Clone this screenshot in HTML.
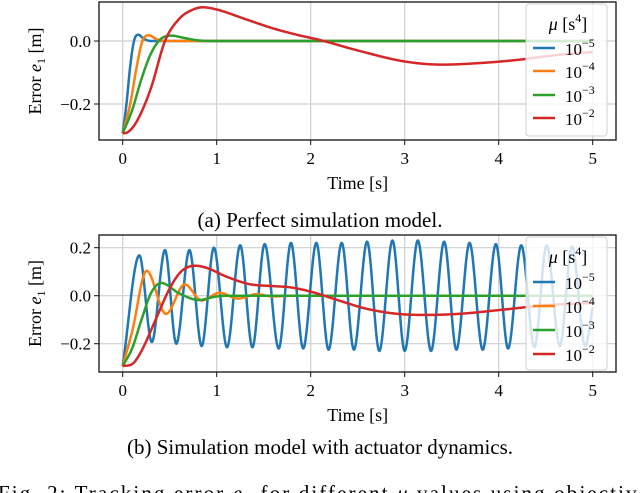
<!DOCTYPE html>
<html><head><meta charset="utf-8">
<style>
html,body{margin:0;padding:0;background:#fff;}
svg{display:block;font-family:"Liberation Serif","DejaVu Serif",serif;}
</style></head>
<body>
<svg id="fig" width="640" height="493" viewBox="0 0 640 493" xmlns="http://www.w3.org/2000/svg"></svg>
<script>
// ---- data ----
const xTicks = [0,1,2,3,4,5];
const yTicksTop = [0.0,-0.2];
const yTickLabelsTop = ["0.0","\u22120.2"];
const yTicksBot = [0.2,0.0,-0.2];
const yTickLabelsBot = ["0.2","0.0","\u22120.2"];
const seriesNames = ["1e-5","1e-4","1e-3","1e-2"];
const seriesExp = ["\u22125","\u22124","\u22123","\u22122"];
const colors = ["#1f77b4","#ff7f0e","#2ca02c","#d62728"];

// top plot (perfect model)
const topBlueT = [0,0.04,0.08,0.12,0.166,0.22,0.3,0.5,5];
const topBlueV = [-0.293,-0.2,-0.08,0.0,0.02,0.008,0.0,0.0,0.0];
const topOrangeT = [0,0.08,0.15,0.21,0.28,0.36,0.45,0.6,5];
const topOrangeV = [-0.293,-0.2,-0.08,0.0,0.018,0.006,0.0,0.0,0.0];
const topGreenT = [0,0.1,0.2,0.3,0.4,0.52,0.65,0.8,1.0,5];
const topGreenV = [-0.293,-0.22,-0.12,-0.04,0.005,0.017,0.01,0.002,0.0,0.0];
const topRedT = [0,0.05,0.15,0.3,0.45,0.6,0.75,0.85,1.0,1.3,1.6,1.85,2.1,2.5,3.0,3.4,3.8,4.2,4.6,5.0];
const topRedV = [-0.293,-0.29,-0.255,-0.15,0.0,0.07,0.1,0.107,0.1,0.07,0.04,0.02,0.003,-0.03,-0.065,-0.075,-0.07,-0.06,-0.045,-0.035];

// bottom plot (actuator dynamics)
const botBlueT = [0,0.177,0.31,0.45,0.57,0.71,0.84,0.97,1.11,1.25,1.38,1.51,1.66,1.79,1.92,2.06,2.19,2.33,2.46,2.6,2.73,2.87,3.0,3.14,3.28,3.42,3.55,3.69,3.83,3.97,4.1,4.24,4.38,4.51,4.65,4.78,4.92,5.0];
const botBlueV = [-0.293,0.168,-0.193,0.19,-0.2,0.19,-0.21,0.2,-0.215,0.21,-0.215,0.215,-0.22,0.22,-0.22,0.22,-0.225,0.22,-0.225,0.225,-0.23,0.23,-0.23,0.23,-0.23,0.225,-0.225,0.22,-0.225,0.215,-0.22,0.21,-0.215,0.21,-0.21,0.205,-0.21,-0.05];
const botOrangeT = [0,0.1,0.255,0.46,0.66,0.84,1.03,1.23,1.42,1.6,1.8,5];
const botOrangeV = [-0.293,-0.15,0.104,-0.076,0.047,-0.02,0.012,-0.012,0.006,-0.003,0.0,0.0];
const botGreenT = [0,0.1,0.2,0.3,0.41,0.6,0.81,1.0,1.2,5];
const botGreenV = [-0.293,-0.22,-0.1,0.01,0.053,0.01,-0.018,-0.003,0.0,0.0];
const botRedT = [0,0.1,0.2,0.35,0.5,0.62,0.77,0.9,1.1,1.35,1.6,1.78,2.0,2.3,2.6,3.0,3.25,3.6,4.0,4.5,5.0];
const botRedV = [-0.293,-0.285,-0.23,-0.1,0.03,0.1,0.125,0.115,0.08,0.048,0.04,0.035,0.017,-0.02,-0.055,-0.078,-0.08,-0.075,-0.06,-0.04,-0.03];

const NS="http://www.w3.org/2000/svg";
const svg=document.getElementById('fig');
function mk(tag,attrs,parent){const e=document.createElementNS(NS,tag);for(const k in attrs)e.setAttribute(k,attrs[k]);(parent||svg).appendChild(e);return e;}

function xScale(t){return 122.7+94*t;}

// monotone cubic interpolation
function monotone(T,V){
  const n=T.length,d=[],m=new Array(n);
  for(let i=0;i<n-1;i++)d.push((V[i+1]-V[i])/(T[i+1]-T[i]));
  m[0]=d[0];m[n-1]=d[n-2];
  for(let i=1;i<n-1;i++){ if(d[i-1]*d[i]<=0)m[i]=0; else m[i]=(d[i-1]+d[i])/2; }
  for(let i=0;i<n-1;i++){ if(d[i]===0){m[i]=0;m[i+1]=0;continue;}
    const a=m[i]/d[i],b=m[i+1]/d[i],s=a*a+b*b; if(s>9){const tt=3/Math.sqrt(s);m[i]=tt*a*d[i];m[i+1]=tt*b*d[i];}}
  const pts=[];
  for(let i=0;i<n-1;i++){const h=T[i+1]-T[i];const steps=Math.max(6,Math.ceil(h*200));
    for(let k=0;k<(i===n-2?steps+1:steps);k++){const s=k/steps;
      const h00=2*s*s*s-3*s*s+1,h10=s*s*s-2*s*s+s,h01=-2*s*s*s+3*s*s,h11=s*s*s-s*s;
      pts.push([T[i]+s*h,h00*V[i]+h10*h*m[i]+h01*V[i+1]+h11*h*m[i+1]]);}}
  return pts;
}

function panel(cfg){
  const g=mk('g',{});
  
  
  const yS=v=>cfg.y0-cfg.k*v;
  const clipId=cfg.name+'-clip';
  const cp=mk('clipPath',{id:clipId},g);mk('rect',{x:cfg.L,y:cfg.T,width:cfg.R-cfg.L,height:cfg.B-cfg.T},cp);
  // grid
  xTicks.forEach(t=>{const l=mk('line',{x1:xScale(t),x2:xScale(t),y1:cfg.T,y2:cfg.B,stroke:'#cfcfcf','stroke-width':1.2},g);
    });
  cfg.yt.forEach(v=>{const l=mk('line',{x1:cfg.L,x2:cfg.R,y1:yS(v),y2:yS(v),stroke:'#cfcfcf','stroke-width':1.2},g);
    });
  // series
  const sg=mk('g',{'clip-path':'url(#'+clipId+')'},g);
  cfg.series.forEach((s,i)=>{const p=monotone(s[0],s[1]);
    const d=p.map((q,j)=>(j?'L':'M')+xScale(q[0]).toFixed(2)+' '+yS(q[1]).toFixed(2)).join('');
    const path=mk('path',{d:d,fill:'none',stroke:colors[i],'stroke-width':2.5,'stroke-linejoin':'round'},sg);
    
    });
  // frame
  const fr=mk('rect',{x:cfg.L,y:cfg.T,width:cfg.R-cfg.L,height:cfg.B-cfg.T,fill:'none',stroke:'#111','stroke-width':1.3},g);
  
  // ticks
  xTicks.forEach(t=>{mk('line',{x1:xScale(t),x2:xScale(t),y1:cfg.B,y2:cfg.B+5,stroke:'#111','stroke-width':1},g);
    const tx=mk('text',{x:xScale(t),y:cfg.B+24,'text-anchor':'middle','font-size':17},g);tx.textContent=t;
    });
  cfg.yt.forEach((v,i)=>{mk('line',{x1:cfg.L-5,x2:cfg.L,y1:yS(v),y2:yS(v),stroke:'#111','stroke-width':1},g);
    const tx=mk('text',{x:cfg.L-8,y:yS(v)+6,'text-anchor':'end','font-size':17},g);tx.textContent=cfg.ytl[i];
    });
  // axis titles
  const xt=mk('text',{x:xScale(2.5),y:cfg.B+49,'text-anchor':'middle','font-size':18},g);xt.textContent='Time [s]';
  
  const cy=(cfg.T+cfg.B)/2;
  const yt=mk('text',{x:0,y:0,'text-anchor':'middle','font-size':18,transform:'translate(41,'+cy+') rotate(-90)'},g);
  yt.innerHTML='Error <tspan font-style="italic">e</tspan><tspan font-size="12" dy="4">1</tspan><tspan dy="-4"> [m]</tspan>';
  
  // legend
  const lg=mk('g',{},g);
  
  mk('rect',{x:526,y:cfg.legT,width:81,height:cfg.legB-cfg.legT,rx:3,fill:'#fff','fill-opacity':0.8,stroke:'#d0d0d0','stroke-width':1},lg);
  const ttl=mk('text',{x:568,y:cfg.legT+26,'text-anchor':'middle','font-size':18},lg);
  ttl.innerHTML='<tspan font-style="italic">μ</tspan> [s<tspan font-size="12" dy="-8">4</tspan><tspan dy="8">]</tspan>';
  
  cfg.legY.forEach((y,i)=>{
    const e=mk('g',{},lg);
    
    mk('line',{x1:533,x2:555,y1:y,y2:y,stroke:colors[i],'stroke-width':2.6},e);
    const t=mk('text',{x:565,y:y+7,'font-size':17},e);
    t.innerHTML='10<tspan font-size="12" dy="-8">'+seriesExp[i]+'</tspan>';
  });
}

panel({name:'top-chart',L:99,R:616,T:2,B:140,y0:41,k:315,yt:yTicksTop,ytl:yTickLabelsTop,
  legT:4,legB:136,legY:[48,71,95,118],
  series:[[topBlueT,topBlueV],[topOrangeT,topOrangeV],[topGreenT,topGreenV],[topRedT,topRedV]]});
panel({name:'bottom-chart',L:99,R:616,T:235,B:372,y0:295.7,k:240,yt:yTicksBot,ytl:yTickLabelsBot,
  legT:237,legB:370,legY:[282,306,330,354],
  series:[[botBlueT,botBlueV],[botOrangeT,botOrangeV],[botGreenT,botGreenV],[botRedT,botRedV]]});

const c1=mk('text',{x:320,y:227,'text-anchor':'middle','font-size':21});
c1.textContent='(a) Perfect simulation model.';

const c2=mk('text',{x:320,y:454,'text-anchor':'middle','font-size':21});
c2.textContent='(b) Simulation model with actuator dynamics.';

const c3=mk('text',{x:-2,y:500,'font-size':21,textLength:650,lengthAdjust:'spacing'});
c3.innerHTML='Fig. 2: Tracking error <tspan font-style="italic">e</tspan><tspan font-size="14" dy="4">1</tspan><tspan dy="-4"> for different </tspan><tspan font-style="italic">μ</tspan> values using objective';

</script>
</body></html>
